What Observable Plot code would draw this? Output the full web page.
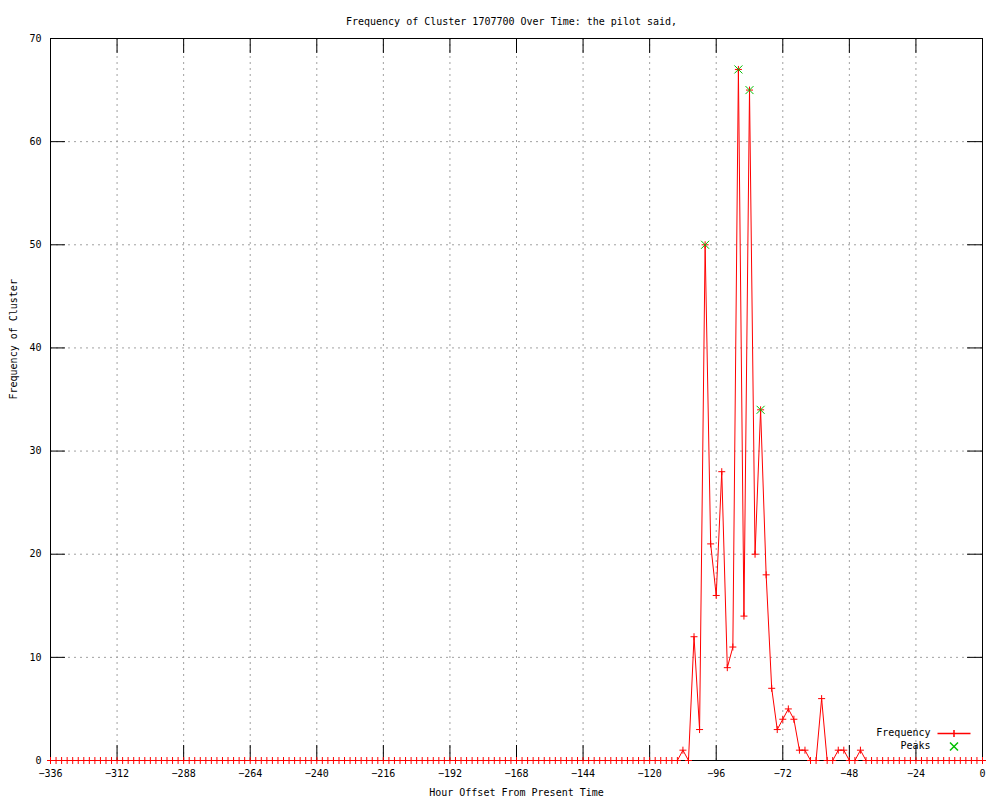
<!DOCTYPE html>
<html>
<head>
<meta charset="utf-8">
<script src="https://cdn.jsdelivr.net/npm/d3@7"></script>
<script src="https://cdn.jsdelivr.net/npm/@observablehq/plot@0.6"></script>
<style>
  html, body { margin: 0; padding: 0; background: white; }
</style>
</head>
<body>
<div id="chart"></div>
<script>
// ---- Data ----
const hours = [
  -336,-334,-332,-330,-328,-326,-324,-322,-320,-318,-316,-314,-312,-310,-308,-306,-304,-302,-300,
  -298,-296,-294,-292,-290,-288,-286,-284,-282,-280,-278,-276,-274,-272,-270,-268,-266,-264,-262,
  -260,-258,-256,-254,-252,-250,-248,-246,-244,-242,-240,-238,-236,-234,-232,-230,-228,-226,-224,
  -222,-220,-218,-216,-214,-212,-210,-208,-206,-204,-202,-200,-198,-196,-194,-192,-190,-188,-186,
  -184,-182,-180,-178,-176,-174,-172,-170,-168,-166,-164,-162,-160,-158,-156,-154,-152,-150,-148,
  -146,-144,-142,-140,-138,-136,-134,-132,-130,-128,-126,-124,-122,-120,-118,-116,-114,-112,-110,
  -108,-106,-104,-102,-100,-98,-96,-94,-92,-90,-88,-86,-84,-82,-80,-78,-76,-74,-72,-70,
  -68,-66,-64,-62,-60,-58,-56,-54,-52,-50,-48,-46,-44,
  -42,-40,-38,-36,-34,-32,-30,-28,-26,-24,-22,-20,-18,-16,-14,-12,-10,-8,-6,-4,-2,0
];
const frequency = [
  0,0,0,0,0,0,0,0,0,0,0,0,0,0,0,0,0,0,0,
  0,0,0,0,0,0,0,0,0,0,0,0,0,0,0,0,0,0,0,
  0,0,0,0,0,0,0,0,0,0,0,0,0,0,0,0,0,0,0,
  0,0,0,0,0,0,0,0,0,0,0,0,0,0,0,0,0,0,0,
  0,0,0,0,0,0,0,0,0,0,0,0,0,0,0,0,0,0,0,
  0,0,0,0,0,0,0,0,0,0,0,0,0,0,0,0,0,0,0,
  1,0,12,3,50,21,16,28,9,11,67,14,65,20,34,18,7,3,4,5,
  4,1,1,0,0,6,0,0,1,1,0,0,1,
  0,0,0,0,0,0,0,0,0,0,0,0,0,0,0,0,0,0,0,0,0,0
];
const peakHours = [-100, -88, -84, -80];
const peakValues = [50, 67, 65, 34];

const xTicks = [-336,-312,-288,-264,-240,-216,-192,-168,-144,-120,-96,-72,-48,-24,0];
const yTicks = [0,10,20,30,40,50,60,70];

const titleText = "Frequency of Cluster 1707700 Over Time: the pilot said,";
const xLabel = "Hour Offset From Present Time";
const yLabel = "Frequency of Cluster";
const legendNames = ["Frequency", "Peaks"];

// ---- Tables ----
const series = hours.map((h, i) => ({hour: h, value: frequency[i]}));
const peaks = peakHours.map((h, i) => ({hour: h, value: peakValues[i]}));

// ---- Layout ----
const W = 1000, H = 800;
const mL = 50, mR = 18, mT = 38, mB = 40;
const innerW = W - mL - mR;
const innerH = H - mT - mB;
const tickLen = 15;

const RED = "#ff0000";
const GREEN = "#00c000";

const plusSym = {draw(ctx) { const r = 3.5; ctx.moveTo(-r, 0); ctx.lineTo(r, 0); ctx.moveTo(0, -r); ctx.lineTo(0, r); }};
const crossSym = {draw(ctx) { const r = 4; ctx.moveTo(-r, -r); ctx.lineTo(r, r); ctx.moveTo(-r, r); ctx.lineTo(r, -r); }};
const legendLineSym = {draw(ctx) { const r = 3.5, w = 16.5; ctx.moveTo(-w, 0); ctx.lineTo(w, 0); ctx.moveTo(0, -r); ctx.lineTo(0, r); }};

const chart = Plot.plot({
  width: W,
  height: H,
  marginLeft: mL,
  marginRight: mR,
  marginTop: mT,
  marginBottom: mB,
  style: {fontFamily: "'DejaVu Sans Mono', monospace", fontSize: "10px", background: "white", color: "black"},
  x: {domain: [-336, 0]},
  y: {domain: [0, 70]},
  marks: [
    // dotted grid
    Plot.ruleX(xTicks, {stroke: "#a0a0a0", strokeDasharray: "2,4", strokeWidth: 1}),
    Plot.ruleY(yTicks, {stroke: "#a0a0a0", strokeDasharray: "2,4", strokeWidth: 1}),
    // inward ticks on all four sides
    Plot.ruleX(xTicks, {insetTop: innerH - tickLen, stroke: "black"}),
    Plot.ruleX(xTicks, {insetBottom: innerH - tickLen, stroke: "black"}),
    Plot.ruleY(yTicks, {insetRight: innerW - tickLen, stroke: "black"}),
    Plot.ruleY(yTicks, {insetLeft: innerW - tickLen, stroke: "black"}),
    Plot.frame({stroke: "black"}),
    // axis labels
    Plot.axisX({ticks: xTicks, tickSize: 0, tickPadding: 9, label: null, tickFormat: d => String(d).replace("-", "\u2212")}),
    Plot.axisY({ticks: yTicks, tickSize: 0, tickPadding: 9, label: null}),
    // data
    Plot.line(series, {x: "hour", y: "value", stroke: RED, strokeWidth: 1}),
    Plot.dot(series, {x: "hour", y: "value", symbol: plusSym, stroke: RED, fill: "none", strokeWidth: 1}),
    Plot.dot(peaks, {x: "hour", y: "value", symbol: crossSym, stroke: GREEN, fill: "none", strokeWidth: 1}),
    // titles
    Plot.text([titleText], {text: d => d, frameAnchor: "top", dx: -5, dy: -21, fontSize: 10}),
    Plot.text([xLabel], {text: d => d, frameAnchor: "bottom", dy: 35, fontSize: 10}),
    Plot.text([yLabel], {text: d => d, frameAnchor: "left", dx: -37, rotate: -90, fontSize: 10}),
    // legend
    Plot.text([legendNames[0]], {text: d => d, frameAnchor: "bottom-right", dx: -52, dy: -25, textAnchor: "end", fontSize: 10}),
    Plot.text([legendNames[1]], {text: d => d, frameAnchor: "bottom-right", dx: -52, dy: -12, textAnchor: "end", fontSize: 10}),
    Plot.dot([legendNames[0]], {frameAnchor: "bottom-right", dx: -28.5, dy: -27, symbol: legendLineSym, stroke: RED, fill: "none"}),
    Plot.dot([legendNames[1]], {frameAnchor: "bottom-right", dx: -28.5, dy: -14, symbol: crossSym, stroke: GREEN, fill: "none"})
  ]
});
document.getElementById("chart").appendChild(chart);
</script>
</body>
</html>
